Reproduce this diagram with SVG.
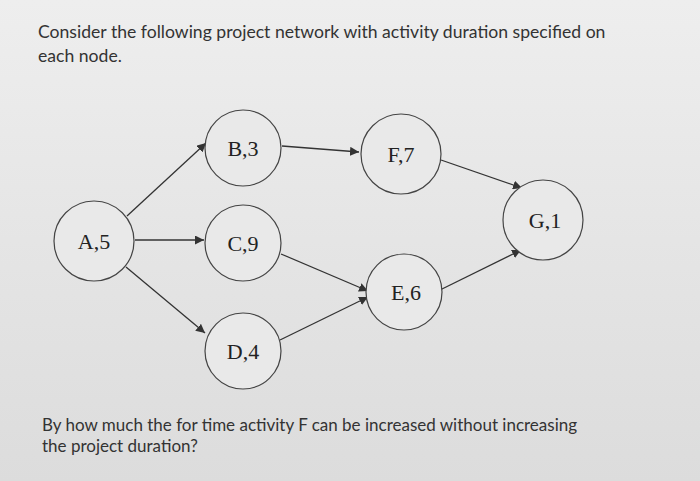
<svg xmlns="http://www.w3.org/2000/svg" width="700" height="481" viewBox="0 0 700 481">
<defs>
<linearGradient id="bg" x1="0" y1="0" x2="0" y2="1"><stop offset="0" stop-color="#eeeeee"/><stop offset="1" stop-color="#dcdcdc"/></linearGradient>
<marker id="ah" viewBox="0 0 10 10" refX="10" refY="5" markerWidth="9" markerHeight="9" orient="auto" markerUnits="userSpaceOnUse"><path d="M0,0L10,5L0,10z" fill="#333"/></marker>
</defs>
<style>
.n{fill:#e9e9e9;stroke:#444;stroke-width:1.2}
.l{font-family:"Liberation Serif",serif;font-size:22px;fill:#222;text-anchor:middle}
.t{font-family:Lato,"Liberation Sans",sans-serif;font-size:17px;fill:#333}
.c{stroke:#333;stroke-width:1.3;fill:none;marker-end:url(#ah)}
</style>
<rect width="700" height="481" fill="url(#bg)"/>
<text class="t" x="38" y="38" style="font-size:17.6px">Consider the following project network with activity duration specified on</text>
<text class="t" x="38" y="62" style="font-size:17.6px">each node.</text>
<g id="connectors">
<line class="c" x1="127" y1="216" x2="206" y2="143"/>
<line class="c" x1="135" y1="240" x2="204" y2="240"/>
<line class="c" x1="126" y1="267" x2="205" y2="333"/>
<line class="c" x1="282" y1="146" x2="359" y2="152"/>
<line class="c" x1="441" y1="160" x2="522" y2="188"/>
<line class="c" x1="281" y1="254" x2="368" y2="291"/>
<line class="c" x1="280" y1="340" x2="368" y2="297"/>
<line class="c" x1="440" y1="290" x2="521" y2="250"/>
</g>
<g id="A"><circle class="n" cx="94" cy="241" r="40"/><text class="l" x="94" y="249">A,5</text></g>
<g id="B"><circle class="n" cx="243" cy="148" r="38"/><text class="l" x="243" y="156">B,3</text></g>
<g id="C"><circle class="n" cx="243" cy="243" r="38"/><text class="l" x="243" y="251">C,9</text></g>
<g id="D"><circle class="n" cx="243" cy="351" r="38"/><text class="l" x="243" y="359">D,4</text></g>
<g id="F"><circle class="n" cx="401" cy="154" r="40"/><text class="l" x="401" y="162">F,7</text></g>
<g id="E"><circle class="n" cx="404" cy="292" r="38"/><text class="l" x="406" y="300">E,6</text></g>
<g id="G"><circle class="n" cx="543" cy="220" r="40"/><text class="l" x="545" y="228">G,1</text></g>
<text class="t" x="42" y="431">By how much the for time activity F can be increased without increasing</text>
<text class="t" x="42" y="452">the project duration?</text>
</svg>
